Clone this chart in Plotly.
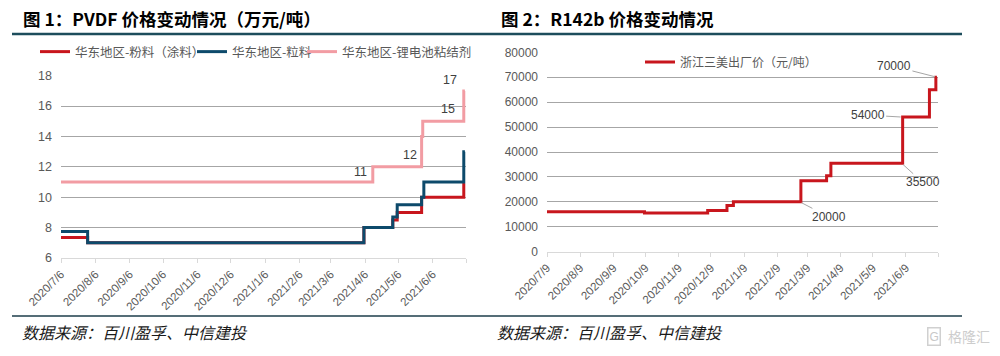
import pandas as pd
import plotly.graph_objects as go

# ---------------- data ----------------
# Figure 1: PVDF prices (万元/吨), change points (hv steps)
powder_dates = ["2020-07-06", "2020-07-30", "2021-04-05", "2021-05-01", "2021-05-05",
                "2021-05-27", "2021-07-04", "2021-07-05"]
powder_vals = [7.35, 7.0, 8.0, 8.5, 9.0, 10.0, 10.9, 10.9]

pellet_dates = ["2020-07-06", "2020-07-30", "2021-04-05", "2021-05-01", "2021-05-05",
                "2021-05-27", "2021-05-29", "2021-07-04", "2021-07-05"]
pellet_vals = [7.75, 7.0, 8.0, 8.7, 9.5, 10.0, 11.0, 13.0, 13.0]

binder_dates = ["2020-07-06", "2021-04-13", "2021-05-27", "2021-05-28", "2021-07-04", "2021-07-05"]
binder_vals = [11, 12, 14, 15, 17, 17]

left_names = ["华东地区-粉料（涂料）", "华东地区-粒料", "华东地区-锂电池粘结剂"]
left_ticks = ["2020/7/6", "2020/8/6", "2020/9/6", "2020/10/6", "2020/11/6", "2020/12/6",
              "2021/1/6", "2021/2/6", "2021/3/6", "2021/4/6", "2021/5/6", "2021/6/6"]
left_range = ["2020-07-06", "2021-07-06"]

# labels on the binder series: (date, value)
binder_labels = [("2021-04-13", 11), ("2021-05-27", 12), ("2021-07-05", 15), ("2021-07-05", 17)]

# Figure 2: R142b price (元/吨)
r142_dates = ["2020-07-09", "2020-10-08", "2020-12-06", "2020-12-24", "2020-12-30",
              "2021-03-03", "2021-03-27", "2021-03-31", "2021-06-06", "2021-07-01",
              "2021-07-07", "2021-07-08"]
r142_vals = [16000, 15500, 16500, 18500, 20000, 28500, 30500, 35500, 54000, 65000, 70000, 70000]
right_name = "浙江三美出厂价（元/吨）"
right_ticks = ["2020/7/9", "2020/8/9", "2020/9/9", "2020/10/9", "2020/11/9", "2020/12/9",
               "2021/1/9", "2021/2/9", "2021/3/9", "2021/4/9", "2021/5/9", "2021/6/9"]
right_range = ["2020-07-09", "2021-07-09"]
r142_labels = [("2021-07-08", 70000), ("2021-06-06", 54000), ("2021-06-05", 35500), ("2021-03-02", 20000)]

titles = ["图 1：PVDF 价格变动情况（万元/吨）", "图 2：R142b 价格变动情况"]
source = "数据来源：百川盈孚、中信建投"

# ---------------- style ----------------
W, H = 1000, 356
CJK = "Noto Sans CJK SC"
NUM = "Liberation Sans, Arial"
GREY = "#595959"
GRID = "#a6a6a6"
RED = "#c8161d"
BLUE = "#0d4a6b"
PINK = "#f29ca3"


def px_x(p):
    return p / W


def px_y(p):
    return 1 - p / H


def to_dt(lst):
    return pd.to_datetime(lst, format="%Y/%m/%d")


fig = go.Figure()

left_legends = ["legend", "legend3", "legend4"]
for name, d, v, c, lg in [(left_names[0], powder_dates, powder_vals, RED, left_legends[0]),
                          (left_names[1], pellet_dates, pellet_vals, BLUE, left_legends[1]),
                          (left_names[2], binder_dates, binder_vals, PINK, left_legends[2])]:
    fig.add_trace(go.Scatter(x=pd.to_datetime(d), y=v, name=name, mode="lines",
                             line=dict(color=c, width=3, shape="hv"),
                             xaxis="x", yaxis="y", legend=lg))

fig.add_trace(go.Scatter(x=pd.to_datetime(r142_dates), y=r142_vals, name=right_name, mode="lines",
                         line=dict(color=RED, width=3, shape="hv"),
                         xaxis="x2", yaxis="y2", legend="legend2"))

tickfont_x = dict(family=NUM, size=11.5, color=GREY)

lt = list(to_dt(left_ticks)) + [pd.Timestamp(left_range[1])]
rt = list(to_dt(right_ticks)) + [pd.Timestamp(right_range[1])]

common_x = dict(type="date", showgrid=False, zeroline=False, showline=True, linecolor="#d9d9d9",
                linewidth=1, ticks="outside", ticklen=4, tickcolor="#d9d9d9", tickangle=-45,
                tickfont=tickfont_x, automargin=False)
common_y = dict(showgrid=True, gridcolor=GRID, gridwidth=1, zeroline=False, showline=False,
                ticks="", ticklabelstandoff=8, automargin=False)


def leg(xpx, ypx, size):
    return dict(orientation="h", x=px_x(xpx), y=px_y(ypx), xanchor="left", yanchor="middle",
                font=dict(family=CJK, size=size, color=GREY), bgcolor="rgba(0,0,0,0)",
                itemwidth=30)


fig.update_layout(
    width=W, height=H, autosize=False,
    margin=dict(l=0, r=0, t=0, b=0, pad=0, autoexpand=False),
    paper_bgcolor="white", plot_bgcolor="white",
    xaxis=dict(domain=[px_x(61), px_x(466)], range=left_range, tickvals=lt,
               ticktext=left_ticks + [""], anchor="y", **common_x),
    yaxis=dict(domain=[px_y(258), px_y(75.7)], range=[6, 18], dtick=2, anchor="x",
               tickfont=dict(family=NUM, size=12.5, color=GREY), **common_y),
    xaxis2=dict(domain=[px_x(547), px_x(938)], range=right_range, tickvals=rt,
                ticktext=right_ticks + [""], anchor="y2", **common_x),
    yaxis2=dict(domain=[px_y(251.7), px_y(52.3)], range=[0, 80000], dtick=10000, anchor="x2",
                tickformat="d", tickfont=dict(family=NUM, size=12, color=GREY), **common_y),
    legend=leg(35, 52, 12.5),
    legend3=leg(192, 52, 12.5),
    legend4=leg(302, 52, 12.5),
    legend2=leg(640, 62, 12),
    showlegend=True,
)

ann = []
# titles
ann.append(dict(text="<b>" + titles[0] + "</b>", x=px_x(21), y=px_y(18), xref="paper", yref="paper",
                xanchor="left", yanchor="middle", showarrow=False,
                font=dict(family=CJK, size=17.5, color="#000000")))
ann.append(dict(text="<b>" + titles[1] + "</b>", x=px_x(499), y=px_y(18), xref="paper", yref="paper",
                xanchor="left", yanchor="middle", showarrow=False,
                font=dict(family=CJK, size=17.5, color="#000000")))
# sources
for xx in (20, 495):
    ann.append(dict(text="<i>" + source + "</i>", x=px_x(xx), y=px_y(332), xref="paper", yref="paper",
                    xanchor="left", yanchor="middle", showarrow=False,
                    font=dict(family=CJK, size=16, color="#1a1a1a")))
# watermark
ann.append(dict(text="G", x=px_x(934), y=px_y(336), xref="paper", yref="paper", xanchor="center",
                yanchor="middle", showarrow=False, bordercolor="#d0d0d0", borderwidth=1.5, borderpad=1,
                font=dict(family=NUM, size=12, color="#c8c8c8")))
ann.append(dict(text="格隆汇", x=px_x(946), y=px_y(336), xref="paper", yref="paper", xanchor="left",
                yanchor="middle", showarrow=False, font=dict(family=CJK, size=14, color="#cdcdcd")))

# binder labels
shifts = [(-4, 1), (-3, 3), (-8, 3), (-6, 2)]
for (d, v), (xs, ys) in zip(binder_labels, shifts):
    ann.append(dict(text=str(v), x=pd.Timestamp(d), y=v, xref="x", yref="y", xanchor="right",
                    yanchor="bottom", xshift=xs, yshift=ys, showarrow=False,
                    font=dict(family=NUM, size=12.5, color="#404040")))

# r142b labels with leader lines
offs = [(-43, -11), (-35, -2), (21, 19), (29, 15)]
for (d, v), (ax, ay) in zip(r142_labels, offs):
    ann.append(dict(text=str(v), x=pd.Timestamp(d), y=v, xref="x2", yref="y2", showarrow=True,
                    arrowhead=0, arrowwidth=1, arrowcolor="#a6a6a6", ax=ax, ay=ay, standoff=2,
                    font=dict(family=NUM, size=12, color="#404040")))

fig.update_layout(annotations=ann)

# separator lines
fig.add_shape(type="line", xref="paper", yref="paper", x0=px_x(12), x1=px_x(962), y0=px_y(34), y1=px_y(34),
              line=dict(color="#1d4d5c", width=2.5))
fig.add_shape(type="line", xref="paper", yref="paper", x0=px_x(12), x1=px_x(962), y0=px_y(316), y1=px_y(316),
              line=dict(color="#1d3d4a", width=1.5))

fig.write_html("out.html", config={"displayModeBar": False},
               post_script="document.body.style.margin='0';document.body.style.overflow='hidden';")
